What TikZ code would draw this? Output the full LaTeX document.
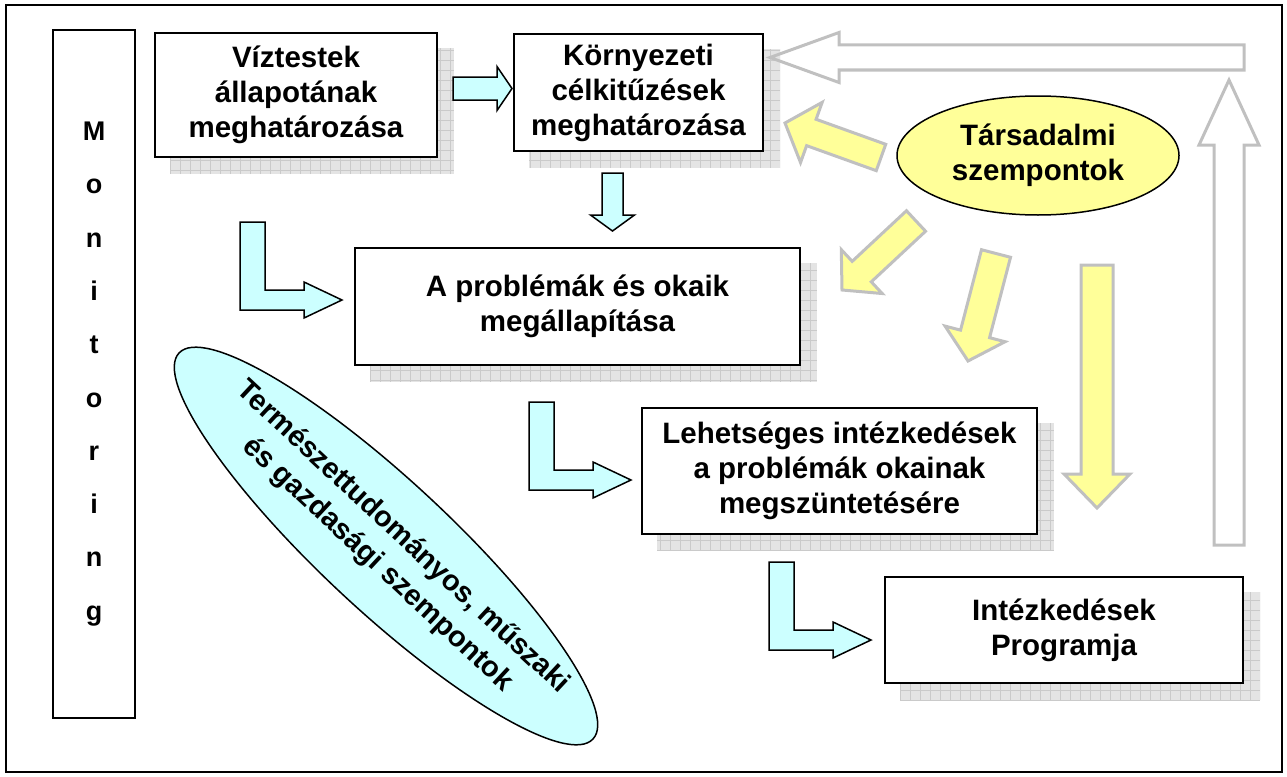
\documentclass[tikz,border=0pt]{standalone}
\usepackage{fontspec}
\setmainfont{Liberation Sans}
\usetikzlibrary{calc,shapes.geometric,backgrounds}
\definecolor{lcyan}{HTML}{CCFFFF}
\definecolor{lyellow}{HTML}{FFFF99}
\definecolor{arrgray}{HTML}{C0C0C0}
\definecolor{shadegray}{HTML}{E4E4E4}
\definecolor{gridgray}{HTML}{CACACA}
\tikzset{
  procbox/.style={draw, line width=2pt, fill=white, align=center, inner sep=0pt,
    font=\bfseries\fontsize{29.5}{35}\selectfont},
  bubble/.style={ellipse, draw, line width=1.5pt, inner sep=0pt, align=center,
    font=\bfseries\fontsize{29.5}{35}\selectfont},
  carrow/.style={draw, line width=1.5pt, fill=lcyan},
  yarrow/.style={draw=arrgray, line width=3pt, fill=lyellow},
  garrow/.style={draw=arrgray, line width=3pt}
}
% grid-textured shadow behind a box
\newcommand{\gridshadow}[1]{%
  \begin{scope}
    \clip ($(#1.north west)+(16,16)$) rectangle ($(#1.south east)+(16,16)$);
    \fill[shadegray] ($(#1.north west)+(16,16)$) rectangle ($(#1.south east)+(16,16)$);
    \draw[gridgray, step=10pt] ($(#1.north west)+(16,16)$) grid ($(#1.south east)+(16,16)$);
  \end{scope}}
% block arrow: style, tail, tip, shaft half width, head half width, head length
\newcommand{\blockarrow}[6]{%
  \coordinate (hb) at ($(#3)!#6pt!(#2)$);
  \draw[#1] ($(#2)!#4pt!90:(#3)$) -- ($(hb)!#4pt!-90:(#2)$) -- ($(hb)!#5pt!-90:(#2)$) -- (#3)
    -- ($(hb)!#5pt!90:(#2)$) -- ($(hb)!#4pt!90:(#2)$) -- ($(#2)!#4pt!-90:(#3)$) -- cycle;}
% L-shaped arrow ending in the given tip
\newcommand{\larrow}[1]{%
  \draw[carrow] ($(#1)+(-102,-78)$) -- ++(25,0) -- ++(0,68) -- ++(39,0) -- ++(0,-8)
    -- (#1) -- ++(-38,18) -- ++(0,-8) -- ++(-64,0) -- cycle;}
\begin{document}
\begin{tikzpicture}[x=1pt,y=-1pt]
  \useasboundingbox (0,0) rectangle (1287,776);
  \draw[line width=1.5pt] (6,5) rectangle (1282,772);

  \node[procbox, line width=1.5pt, minimum width=82pt, minimum height=688pt,
    font=\bfseries\fontsize{27}{53.3}\selectfont] (mon) at (94,374)
    {M\\o\\n\\i\\t\\o\\r\\i\\n\\g};

  \node[procbox, minimum width=282pt, minimum height=124pt] (viz) at (296,95)
    {Víztestek\\állapotának\\meghatározása};
  \node[procbox, minimum width=249pt, minimum height=117pt] (kor) at (638.5,92.5)
    {Környezeti\\célkitűzések\\meghatározása};
  \node[procbox, minimum width=445pt, minimum height=117pt] (prob) at (577.5,306.5)
    {A problémák és okaik\\megállapítása};
  \node[procbox, minimum width=395pt, minimum height=126pt] (lehet) at (839.5,471)
    {Lehetséges intézkedések\\a problémák okainak\\megszüntetésére};
  \node[procbox, minimum width=358pt, minimum height=106pt] (prog) at (1064,630)
    {Intézkedések\\Programja};
  \begin{scope}[on background layer]
    \foreach \b in {viz,kor,prob,lehet,prog}
      \gridshadow{\b};
  \end{scope}

  \node[bubble, fill=lyellow, minimum width=282pt, minimum height=119pt] (tars) at (1038,155.5)
    {Társadalmi\\szempontok};
  \node[bubble, fill=lcyan, minimum width=566pt, minimum height=130pt, rotate=-43] (term) at (386,546) {};
  \node[rotate=-43, align=center, font=\bfseries\fontsize{29}{37}\selectfont] (termtxt) at (390,551)
    {Természettudományos, műszaki\\és gazdasági szempontok};

  % arrow end points
  \coordinate (vk1) at (453,88.5);  \coordinate (vk2) at (512,88.5);
  \coordinate (kp1) at (612.5,173); \coordinate (kp2) at (612.5,231);
  \coordinate (fb1) at (1244,57.5); \coordinate (fb2) at (770,57.5);
  \coordinate (up1) at (1229,545);  \coordinate (up2) at (1229,80);
  \coordinate (t11) at (881,157.5); \coordinate (t12) at (785,123);
  \coordinate (t21) at (916,221);   \coordinate (t22) at (842,290);
  \coordinate (t31) at (996,253.5); \coordinate (t32) at (968,361);
  \coordinate (t41) at (1097,265);  \coordinate (t42) at (1097,508);
  \coordinate (l1) at (342,300);
  \coordinate (l2) at (631,480);
  \coordinate (l3) at (871,640);

  \blockarrow{carrow}{vk1}{vk2}{11.5}{22}{15}
  \blockarrow{carrow}{kp1}{kp2}{10.5}{22}{16}
  \larrow{l1}
  \larrow{l2}
  \larrow{l3}

  \blockarrow{garrow}{fb1}{fb2}{12.5}{25}{69}
  \blockarrow{garrow}{up1}{up2}{15}{30}{65}

  \blockarrow{yarrow}{t11}{t12}{14}{32}{28}
  \blockarrow{yarrow}{t21}{t22}{14}{30}{27}
  \blockarrow{yarrow}{t31}{t32}{15}{31}{28}
  \blockarrow{yarrow}{t41}{t42}{16}{33}{34}
\end{tikzpicture}
\end{document}
